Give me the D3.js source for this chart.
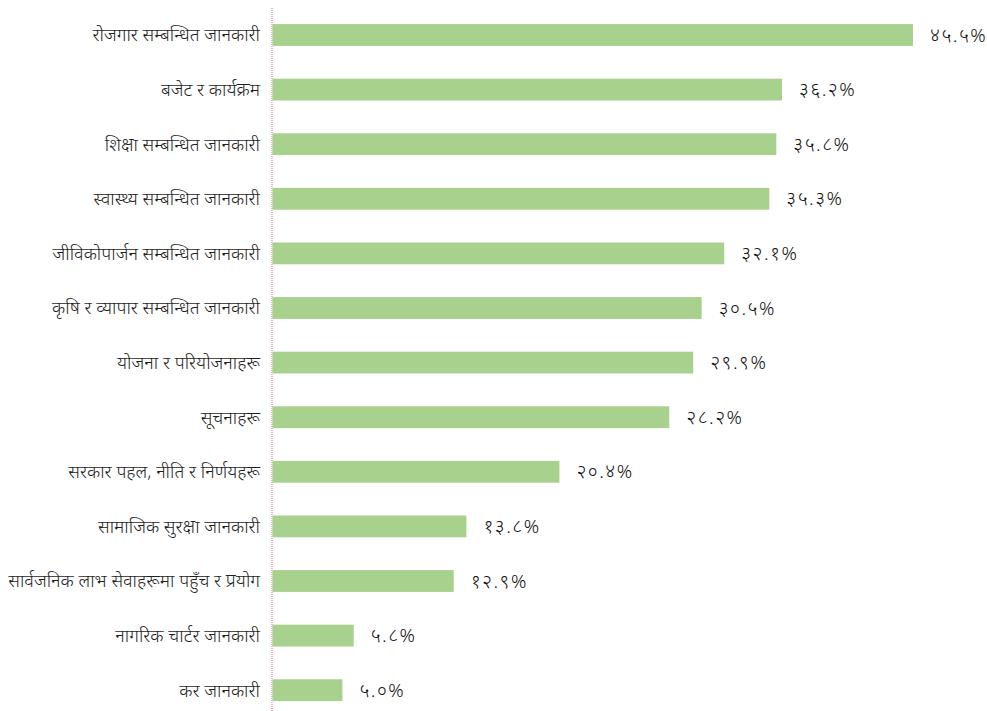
<!DOCTYPE html>
<html><head><meta charset="utf-8">
<script src="https://cdn.jsdelivr.net/npm/d3@7"></script>
<style>body{margin:0;background:#fff}svg{display:block}</style>
</head><body>
<svg id="c" width="987" height="711"></svg>
<script>
const categories = ["रोजगार सम्बन्धित जानकारी","बजेट र कार्यक्रम","शिक्षा सम्बन्धित जानकारी","स्वास्थ्य सम्बन्धित जानकारी","जीविकोपार्जन सम्बन्धित जानकारी","कृषि र व्यापार सम्बन्धित जानकारी","योजना र परियोजनाहरू","सूचनाहरू","सरकार पहल, नीति र निर्णयहरू","सामाजिक सुरक्षा जानकारी","सार्वजनिक लाभ सेवाहरूमा पहुँच र प्रयोग","नागरिक चार्टर जानकारी","कर जानकारी"];
const values = [45.5,36.2,35.8,35.3,32.1,30.5,29.9,28.2,20.4,13.8,12.9,5.8,5.0];
const valueLabels = ["४५.५%","३६.२%","३५.८%","३५.३%","३२.१%","३०.५%","२९.९%","२८.२%","२०.४%","१३.८%","१२.९%","५.८%","५.०%"];

const svg = d3.select("#c");
const x = d3.scaleLinear().domain([0,45.5]).range([272,913]);
const y = d3.scaleBand().domain(categories).range([7.7,717.5]).paddingInner(0.6).paddingOuter(0.3);

svg.append("line").attr("x1",272).attr("x2",272).attr("y1",8).attr("y2",711)
  .attr("stroke","#c07a9a").attr("stroke-width",1).attr("stroke-dasharray","1,1");

svg.selectAll("rect.bar").data(values).join("rect").attr("class","bar")
  .attr("x",x(0)+0.5).attr("y",(d,i)=>y(categories[i]))
  .attr("width",d=>x(d)-x(0)-0.5).attr("height",y.bandwidth())
  .attr("fill","#a9d18e");

svg.selectAll("text.cat").data(categories).join("text").attr("class","cat")
  .attr("x",260).attr("y",d=>y(d)+y.bandwidth()/2).attr("dy","0.35em")
  .attr("text-anchor","end").attr("font-family","'Noto Sans', sans-serif")
  .attr("font-size",18.2).attr("font-weight",300).attr("fill","#1f1f1f").text(d=>d);

svg.selectAll("text.val").data(values).join("text").attr("class","val")
  .attr("x",d=>x(d)+17).attr("y",(d,i)=>y(categories[i])+y.bandwidth()/2).attr("dy","0.35em")
  .attr("font-family","'Noto Sans', sans-serif").attr("font-size",19).attr("font-weight",300)
  .attr("letter-spacing",1.5).attr("fill","#111")
  .text((d,i)=>valueLabels[i]);
</script>
</body></html>
